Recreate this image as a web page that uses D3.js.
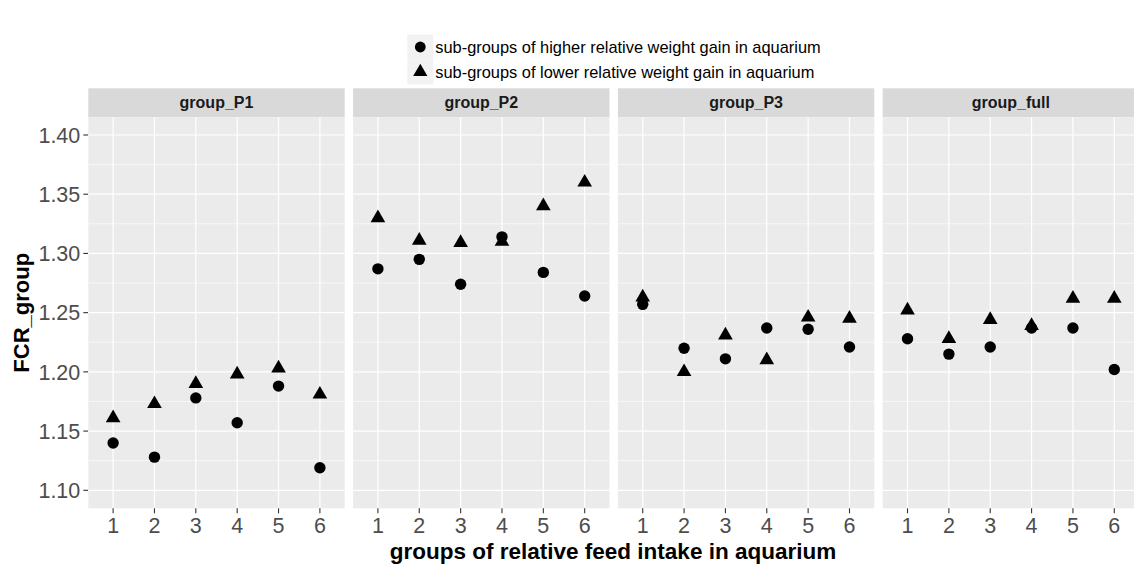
<!DOCTYPE html>
<html><head><meta charset="utf-8">
<script src="https://cdn.jsdelivr.net/npm/d3@7"></script>
<style>body{margin:0;background:#fff;} svg{display:block;font-family:"Liberation Sans",Arial,sans-serif;}</style>
</head><body>
<svg id="c" width="1134" height="564"></svg>
<script>
const panels = ["group_P1","group_P2","group_P3","group_full"];
const categories = ["1","2","3","4","5","6"];
const higherGain = {
  group_P1:   [1.140, 1.128, 1.178, 1.157, 1.188, 1.119],
  group_P2:   [1.287, 1.295, 1.274, 1.314, 1.284, 1.264],
  group_P3:   [1.257, 1.220, 1.211, 1.237, 1.236, 1.221],
  group_full: [1.228, 1.215, 1.221, 1.237, 1.237, 1.202]
};
const lowerGain = {
  group_P1:   [1.161, 1.173, 1.190, 1.198, 1.203, 1.181],
  group_P2:   [1.330, 1.311, 1.309, 1.310, 1.340, 1.360],
  group_P3:   [1.263, 1.200, 1.231, 1.210, 1.246, 1.245],
  group_full: [1.252, 1.228, 1.244, 1.239, 1.262, 1.262]
};
const yTicks = [1.10,1.15,1.20,1.25,1.30,1.35,1.40];
const yMinor = [1.125,1.175,1.225,1.275,1.325,1.375];
const legendLabels = ["sub-groups of higher relative weight gain in aquarium","sub-groups of lower relative weight gain in aquarium"];

(function(){
const svg = d3.select("#c");
const panelLeft0 = 88.3, panelW = 256.4, panelStep = 264.8;
const pTop = 117.3, pBottom = 508.3, stripTop = 88.3;

const y = d3.scaleLinear().domain([1.10, 1.40]).range([490.3, 135]);

const yAxisG = svg.append("g").attr("transform",`translate(${panelLeft0},0)`);
yAxisG.selectAll("line.t").data(yTicks).join("line")
  .attr("x1",-5).attr("x2",0).attr("y1",d=>y(d)).attr("y2",d=>y(d))
  .attr("stroke","#333").attr("stroke-width",1.1);
yAxisG.selectAll("text").data(yTicks).join("text")
  .attr("x",-8).attr("y",d=>y(d)).attr("dy","0.36em").attr("text-anchor","end")
  .attr("font-size",21.5).attr("fill","#4d4d4d").text(d=>d.toFixed(2));

svg.append("text").attr("transform",`translate(28.5,${(pTop+pBottom)/2}) rotate(-90)`)
  .attr("text-anchor","middle").attr("font-size",22).attr("font-weight","bold").attr("fill","#000").text("FCR_group");

panels.forEach((p,i)=>{
  const left = panelLeft0 + i*panelStep;
  const x = d3.scalePoint().domain(categories).range([left, left+panelW]).padding(0.6);
  const g = svg.append("g");
  g.append("rect").attr("x",left).attr("y",stripTop).attr("width",panelW).attr("height",pTop-stripTop).attr("fill","#d9d9d9");
  g.append("text").attr("x",left+panelW/2).attr("y",(stripTop+pTop)/2).attr("dy","0.35em").attr("text-anchor","middle")
    .attr("font-size",16).attr("font-weight","bold").attr("fill","#1a1a1a").text(p);
  g.append("rect").attr("x",left).attr("y",pTop).attr("width",panelW).attr("height",pBottom-pTop).attr("fill","#ebebeb");
  g.selectAll("line.minor").data(yMinor).join("line").attr("class","minor")
    .attr("x1",left).attr("x2",left+panelW).attr("y1",d=>y(d)).attr("y2",d=>y(d))
    .attr("stroke","#fff").attr("stroke-width",0.6);
  g.selectAll("line.major").data(yTicks).join("line").attr("class","major")
    .attr("x1",left).attr("x2",left+panelW).attr("y1",d=>y(d)).attr("y2",d=>y(d))
    .attr("stroke","#fff").attr("stroke-width",1.2);
  g.selectAll("line.vmajor").data(categories).join("line").attr("class","vmajor")
    .attr("x1",d=>x(d)).attr("x2",d=>x(d)).attr("y1",pTop).attr("y2",pBottom)
    .attr("stroke","#fff").attr("stroke-width",1.2);
  const xa = svg.append("g").attr("transform",`translate(0,${pBottom})`);
  xa.selectAll("line").data(categories).join("line")
    .attr("x1",d=>x(d)).attr("x2",d=>x(d)).attr("y1",0).attr("y2",5)
    .attr("stroke","#333").attr("stroke-width",1.1);
  xa.selectAll("text").data(categories).join("text")
    .attr("x",d=>x(d)).attr("y",25).attr("text-anchor","middle")
    .attr("font-size",21.5).attr("fill","#4d4d4d").text(d=>d);
  const tri = d3.symbol().type(d3.symbolTriangle).size(93);
  g.selectAll("circle.h").data(higherGain[p]).join("circle")
    .attr("cx",(d,j)=>x(categories[j])).attr("cy",d=>y(d)).attr("r",5.7).attr("fill","#000");
  g.selectAll("path.l").data(lowerGain[p]).join("path")
    .attr("transform",(d,j)=>`translate(${x(categories[j])},${y(d)})`)
    .attr("d", tri).attr("fill","#000");
});

svg.append("text").attr("x",613).attr("y",551).attr("dy","0.35em").attr("text-anchor","middle")
  .attr("font-size",22.5).attr("font-weight","bold").attr("fill","#000").text("groups of relative feed intake in aquarium");

const lg = svg.append("g");
const keyX = 407.3, keyW = 26, keyH = 25, keyY0 = 34.5;
legendLabels.forEach((t,i)=>{
  const ky = keyY0 + i*keyH;
  lg.append("rect").attr("x",keyX).attr("y",ky).attr("width",keyW).attr("height",keyH).attr("fill","#f2f2f2");
  const cx = keyX+keyW/2, cy = ky+keyH/2;
  if(i===0) lg.append("circle").attr("cx",cx).attr("cy",cy).attr("r",5.4).attr("fill","#000");
  else lg.append("path").attr("transform",`translate(${cx},${cy})`).attr("d",d3.symbol().type(d3.symbolTriangle).size(88)()).attr("fill","#000");
  lg.append("text").attr("x",keyX+keyW+2).attr("y",cy).attr("dy","0.35em").attr("font-size",16.4).attr("fill","#000").text(t);
});
})();
</script>
</body></html>
